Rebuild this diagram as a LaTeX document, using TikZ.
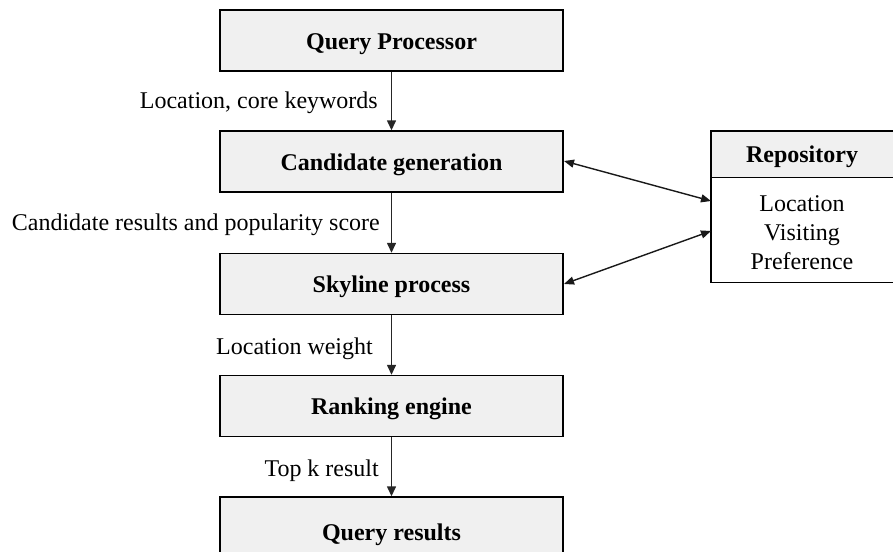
\documentclass[tikz,border=0pt]{standalone}
\usepackage{fontspec}
\setmainfont{Liberation Serif}
\usetikzlibrary{arrows.meta}
\definecolor{boxfill}{HTML}{F0F0F0}
\begin{document}
\begin{tikzpicture}[x=1pt,y=-1pt,
  stage/.style={draw=black,fill=boxfill,line width=1.4pt,minimum width=343pt,
    minimum height=61pt,inner sep=0pt,text height=17pt,text depth=0pt,
    font=\fontsize{24}{28}\selectfont\bfseries},
  flow/.style={line width=1.4pt,draw=black!85,-{Triangle[length=10pt,width=9pt]}},
  link/.style={line width=1.4pt,draw=black!90,{Triangle[length=10pt,width=8pt]}-{Triangle[length=10pt,width=8pt]}},
  lbl/.style={font=\fontsize{24}{28}\selectfont,inner sep=0pt,anchor=base east}]
\useasboundingbox (0,0) rectangle (893,551);
\begin{scope}
\clip (0,0) rectangle (893,551);
\node[stage] (qp) at (391.5,40.5) {Query Processor};
\node[stage] (cg) at (391.5,161.5) {Candidate generation};
\node[stage] (sp) at (391.5,284) {Skyline process};
\node[stage] (re) at (391.5,406) {Ranking engine};
\node[stage,minimum height=70pt] (qr) at (391.5,532) {Query results};
% repository: header and body
\node[fill=boxfill,minimum width=182pt,minimum height=46pt,
  inner sep=0pt,text height=17pt,text depth=0pt,
  font=\fontsize{24}{28}\selectfont\bfseries] (rh) at (802,154) {Repository};
\node[fill=white,minimum width=182pt,minimum height=105pt,
  inner sep=0pt,anchor=north] (rb) at (rh.south) {};
\node[align=center,inner sep=0pt,font=\fontsize{24}{29}\selectfont] (rt)
  at (802,233) {Location\\Visiting\\Preference};
\draw[line width=1.4pt] (rh.north west) rectangle (rb.south east);
\draw[line width=1.4pt] (rh.south west) -- (rh.south east);
\end{scope}
\draw[flow] (qp.south) -- (cg.north);
\draw[flow] (cg.south) -- (sp.north);
\draw[flow] (sp.south) -- (re.north);
\draw[flow] (re.south) -- (qr.north);
\coordinate (r1) at (711,201);
\coordinate (r2) at (711,231);
\coordinate (c1) at (564,161);
\coordinate (s1) at (564,284);
\draw[link] (c1) -- (r1);
\draw[link] (s1) -- (r2);
\node[lbl] (l1) at (378,108) {Location, core keywords};
\node[lbl] (l2) at (380,230) {Candidate results and popularity score};
\node[lbl] (l3) at (373,354) {Location weight};
\node[lbl] (l4) at (379,476) {Top k result};
\end{tikzpicture}
\end{document}
